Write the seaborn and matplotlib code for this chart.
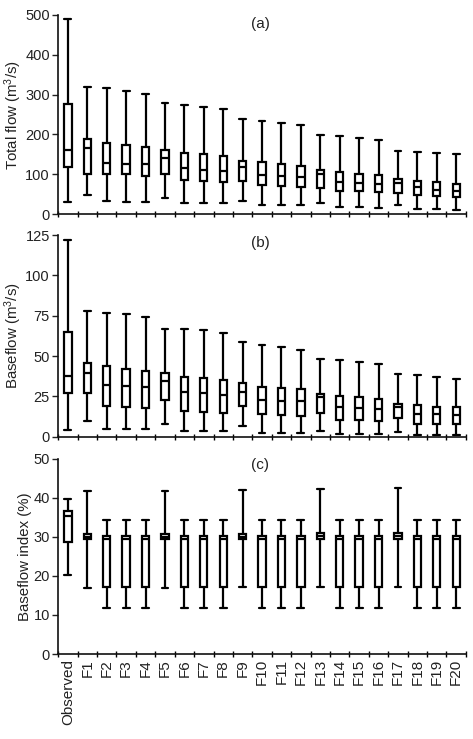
import numpy as np
import pandas as pd
import matplotlib
matplotlib.use("Agg")
import matplotlib.pyplot as plt
import seaborn as sns

sns.set_style("ticks")
plt.rcParams['font.family'] = ['Liberation Sans', 'DejaVu Sans']
plt.rcParams['mathtext.default'] = 'regular'

runs = ["Observed"] + [f"F{i}" for i in range(1, 21)]

# five-number summaries: min, Q1, median, Q3, max
# (a) total flow, m3/s
total_min = [30, 48, 33, 32, 32, 42, 28, 28, 28, 33, 23, 23, 23, 28, 18, 18, 17, 23, 13, 13, 12]
total_q1 = [119, 100, 102, 100, 95, 100, 85, 83, 81, 84, 73, 71, 69, 67, 59, 59, 56, 54, 48, 46, 44]
total_med = [162, 165, 129, 127, 125, 140, 115, 112, 109, 119, 98, 96, 94, 102, 81, 79, 77, 79, 69, 62, 59]
total_q3 = [276, 188, 178, 173, 169, 161, 154, 150, 146, 134, 130, 126, 121, 111, 106, 102, 99, 88, 83, 80, 77]
total_max = [490, 320, 316, 309, 301, 278, 274, 268, 264, 240, 234, 229, 224, 199, 195, 192, 186, 159, 157, 154, 150]

# (b) baseflow, m3/s
base_min = [4, 9.7, 4.5, 4.5, 4.5, 7.6, 3.5, 3.5, 3.5, 6.6, 2.5, 2.5, 2.5, 3.5, 1.8, 1.8, 1.8, 3, 1, 1, 1]
base_q1 = [27, 27, 19, 18.5, 18, 23, 15.8, 15.4, 15, 19.3, 13.8, 13.2, 12.7, 14.8, 10.3, 10.3, 9.9, 11.7, 8.2, 8, 7.6]
base_med = [37.8, 39.5, 32.3, 31.7, 30.6, 34.3, 27.5, 27, 26, 28, 23, 22.4, 22, 24.5, 18.3, 17.9, 17.5, 18.5, 14.2, 13.8, 13.2]
base_q3 = [64.6, 46, 43.6, 42, 41, 39.5, 37, 36.4, 35.4, 33, 30.8, 30.2, 29.6, 26.5, 25.5, 24.5, 23.6, 20.4, 19.5, 18.7, 18.3]
base_max = [122, 78, 76.5, 76, 74, 67, 67, 66, 64, 58.4, 57, 55.5, 54, 48.3, 47.3, 46.3, 45.2, 38.9, 38, 37, 36]

# (c) baseflow index, %
bfi_min = [20.3, 16.8, 11.9, 11.9, 11.9, 16.8, 11.9, 11.9, 11.9, 17.2, 11.9, 11.9, 11.9, 17.2, 11.9, 11.9, 11.9, 17.3, 11.9, 11.9, 11.9]
bfi_q1 = [28.8, 29.4, 17.1, 17.1, 17.1, 29.4, 17.1, 17.1, 17.1, 29.4, 17.3, 17.3, 17.3, 29.4, 17.3, 17.3, 17.3, 29.5, 17.3, 17.3, 17.3]
bfi_med = [35.4, 30.1, 29.6, 29.6, 29.6, 30.1, 29.6, 29.6, 29.6, 30.1, 29.6, 29.6, 29.6, 30.2, 29.6, 29.6, 29.6, 30.2, 29.6, 29.6, 29.6]
bfi_q3 = [36.6, 30.8, 30.2, 30.2, 30.2, 30.8, 30.2, 30.2, 30.2, 30.8, 30.2, 30.2, 30.2, 30.9, 30.2, 30.2, 30.2, 30.9, 30.2, 30.2, 30.2]
bfi_max = [39.7, 41.8, 34.4, 34.4, 34.4, 41.8, 34.4, 34.4, 34.4, 42.0, 34.4, 34.4, 34.4, 42.2, 34.4, 34.4, 34.4, 42.5, 34.4, 34.4, 34.4]


def long_frame(stats):
    rows = []
    for col in stats:
        for run, v in zip(runs, col):
            rows.append({"run": run, "value": v})
    return pd.DataFrame(rows)


panels = [
    (long_frame([total_min, total_q1, total_med, total_q3, total_max]),
     "Total flow (m$^3$/s)", 500, 100, "(a)", 0.955),
    (long_frame([base_min, base_q1, base_med, base_q3, base_max]),
     "Baseflow (m$^3$/s)", 125, 25, "(b)", 0.96),
    (long_frame([bfi_min, bfi_q1, bfi_med, bfi_q3, bfi_max]),
     "Baseflow index (%)", 50, 10, "(c)", 0.97),
]

fig = plt.figure(figsize=(4.73, 7.39), dpi=100)
boxes = [(0.710, 0.980), (0.409, 0.682), (0.115, 0.379)]
txt = "#222222"
bw = 0.38

for i, (df, ylab, ymax, step, tag, ty) in enumerate(panels):
    b, t = boxes[i]
    ax = fig.add_axes([0.123, b, 0.862, t - b])
    sns.boxplot(data=df, x="run", y="value", order=runs, whis=(0, 100),
                width=bw, color="white", linecolor="black", linewidth=1.6,
                fliersize=0, ax=ax)
    # caps as wide as the boxes, like the original
    for ln in ax.lines:
        xd, yd = np.asarray(ln.get_xdata(), float), np.asarray(ln.get_ydata(), float)
        if len(xd) == 2 and yd[0] == yd[1] and (xd[1] - xd[0]) < 0.9 * bw:
            c = xd.mean()
            ln.set_xdata([c - bw * 0.46, c + bw * 0.46])
    ax.set_xlim(-0.5, 20.5)
    ax.set_ylim(0, ymax)
    ax.set_yticks(np.arange(0, ymax + 1, step))
    ax.set_ylabel(ylab, fontsize=10.8, color=txt, labelpad=1)
    ax.set_xlabel("")
    ax.tick_params(axis="y", labelsize=10.5, colors=txt, length=4, width=1,
                   direction="out", pad=2)
    ax.set_xticks(np.arange(-0.5, 21, 1), minor=True)
    ax.tick_params(axis="x", which="minor", length=5, width=1, direction="inout",
                   color="black")
    ax.tick_params(axis="x", which="major", length=0, labelsize=11, colors=txt,
                   rotation=90)
    if i < 2:
        ax.set_xticklabels([])
    ax.text(0.495, ty, tag, transform=ax.transAxes, ha="center", va="center",
            fontsize=11, color=txt)
    for sp in ["left", "bottom"]:
        ax.spines[sp].set_linewidth(1.2)
        ax.spines[sp].set_color("#111111")
    sns.despine(ax=ax)

fig.savefig("out.png", dpi=100)
